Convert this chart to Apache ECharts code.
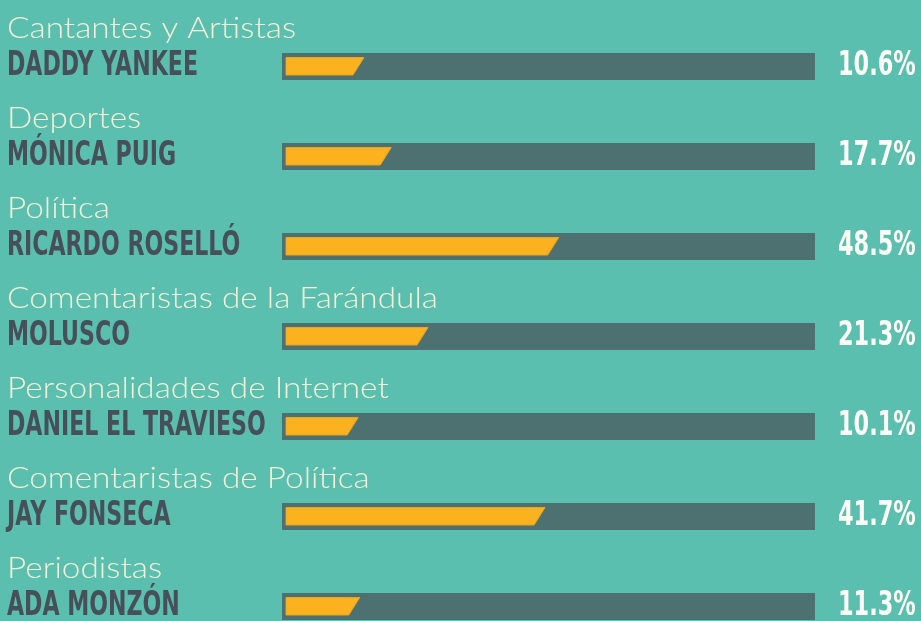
<!DOCTYPE html>
<html>
<head>
<meta charset="utf-8">
<script src="https://cdn.jsdelivr.net/npm/echarts@6/dist/echarts.min.js"></script>
<style>
  html, body { margin: 0; padding: 0; background: #5abfae; }
  #chart { width: 921px; height: 621px; }
</style>
</head>
<body>
<div id="chart"></div>
<script>
// categorias y personas
var groups = ['Cantantes y Artistas', 'Deportes', 'Política', 'Comentaristas de la Farándula',
  'Personalidades de Internet', 'Comentaristas de Política', 'Periodistas'];
var names = ['DADDY YANKEE', 'MÓNICA PUIG', 'RICARDO ROSELLÓ', 'MOLUSCO',
  'DANIEL EL TRAVIESO', 'JAY FONSECA', 'ADA MONZÓN'];
// porcentaje que se muestra a la derecha
var shares = [10.6, 17.7, 48.5, 21.3, 10.1, 41.7, 11.3];
// largo de la barra amarilla tal como se ve (0-100 de la pista)
var barFill = [13.8, 19.0, 50.9, 26.0, 12.7, 48.3, 13.0];

var chart = echarts.init(document.getElementById('chart'));

function renderRow(params, api) {
  var i = api.value(0);
  var start = api.coord([0, i]);
  var end = api.coord([100, i]);
  var tip = api.coord([api.value(1), i]);
  var cy = start[1];
  var slant = 5.5;

  return {
    type: 'group',
    children: [
      {
        type: 'rect',
        shape: { x: start[0] - 4, y: cy - 13.5, width: end[0] - start[0] + 8, height: 27 },
        style: { fill: '#4d7171' }
      },
      {
        type: 'polygon',
        shape: {
          points: [
            [start[0], cy - 9],
            [tip[0] + slant, cy - 9],
            [tip[0] - slant, cy + 8.5],
            [start[0], cy + 8.5]
          ]
        },
        style: { fill: '#fcb11f', stroke: '#e9a523', lineWidth: 1 }
      },
      {
        type: 'text',
        x: 7, y: cy - 38,
        scaleX: 1.15,
        style: {
          text: groups[i], fill: '#f4f1d8',
          font: '300 29px Lato', verticalAlign: 'middle'
        }
      },
      {
        type: 'text',
        x: 7, y: cy,
        scaleX: 0.65,
        style: {
          text: names[i], fill: '#474f59',
          font: 'bold 34px "DejaVu Sans"', verticalAlign: 'middle'
        }
      },
      {
        type: 'text',
        x: 838, y: cy,
        scaleX: 0.66,
        style: {
          text: shares[i].toFixed(1) + '%', fill: '#fdfdf5',
          font: 'bold 34px "DejaVu Sans"', verticalAlign: 'middle'
        }
      }
    ]
  };
}

chart.setOption({
  backgroundColor: '#5abfae',
  animation: false,
  grid: { left: 286, width: 525, top: 21.5, height: 630, outerBoundsMode: 'none' },
  xAxis: { type: 'value', min: 0, max: 100, show: false },
  yAxis: { type: 'category', data: names, inverse: true, show: false },
  series: [{
    type: 'custom',
    renderItem: renderRow,
    encode: { x: 1, y: 0 },
    data: barFill.map(function (v, i) { return [i, v]; })
  }]
});
</script>
</body>
</html>
